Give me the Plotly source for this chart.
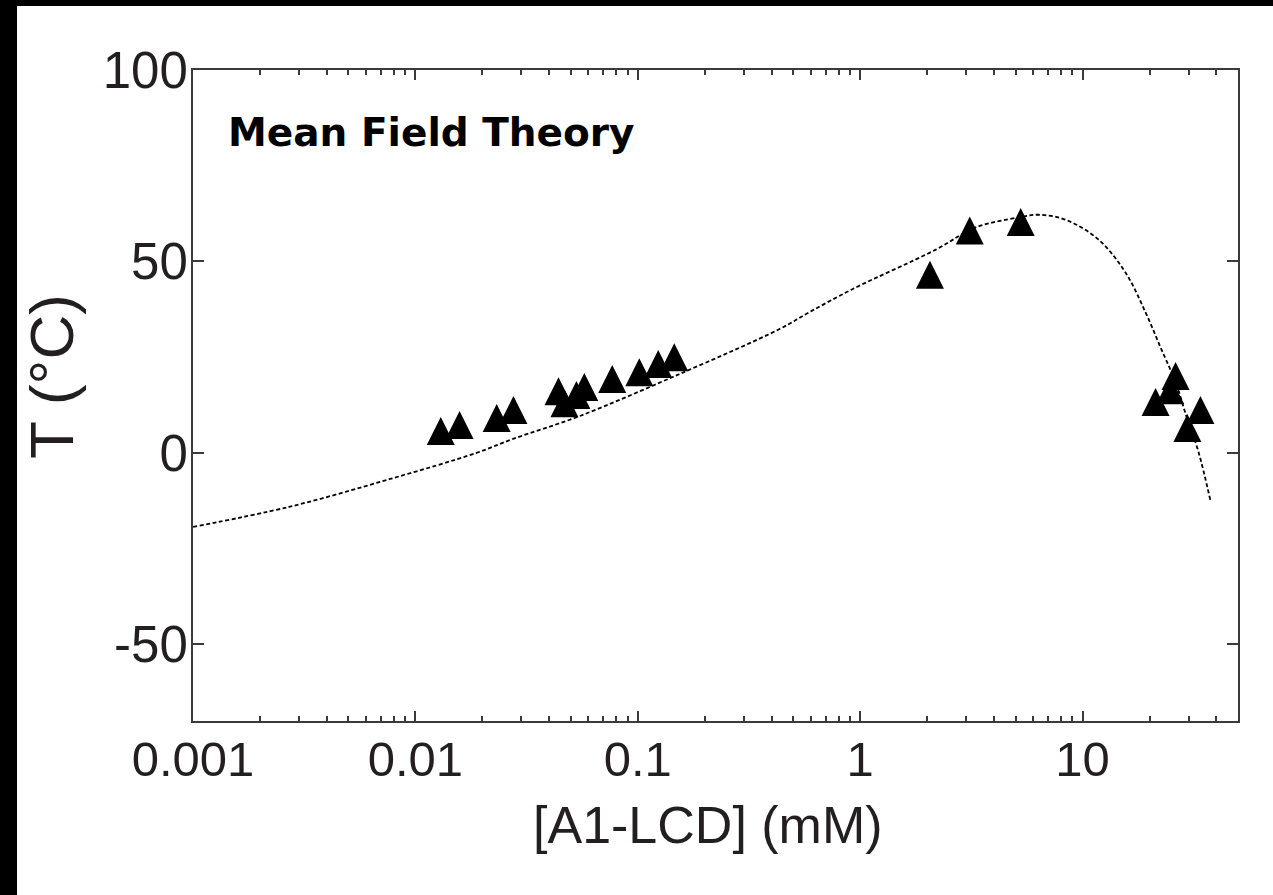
import plotly.graph_objects as go

# Experimental points (A1-LCD concentration in mM, temperature in C)
conc_mM = [0.0130, 0.0158, 0.0232, 0.0276, 0.0440, 0.0468, 0.0530, 0.0575, 0.0768,
           0.1016, 0.1236, 0.1459, 2.06, 3.11, 5.27, 21.3, 24.8, 26.2, 29.6, 33.9]
temp_C = [5.7, 7.3, 9.1, 11.2, 16.1, 13.0, 15.1, 17.2, 19.3,
          21.1, 23.2, 25.0, 46.5, 58.1, 60.3, 13.3, 16.4, 20.1, 6.5, 11.2]

# Mean field theory binodal
mft_x = [0.001, 0.0027, 0.0077, 0.0188, 0.0273, 0.0546, 0.154, 0.432, 0.589, 0.918,
         2.19, 3.31, 5.16, 6.35, 8.39, 11.8, 15.6, 19.2, 22.6, 26.2, 29.3, 33.2, 37.6]
mft_y = [-19.3, -14.1, -6.8, 0.0, 3.6, 9.6, 20.6, 32.3, 36.7, 42.7,
         53.1, 58.9, 61.5, 62.2, 60.9, 55.7, 47.1, 36.7, 27.1, 18.5, 9.6, 0.3, -12.5]

x_tickvals = [0.001, 0.01, 0.1, 1, 10]
x_ticktext = ["0.001", "0.01", "0.1", "1", "10"]
x_minor = [m * d for d in [0.001, 0.01, 0.1, 1, 10] for m in range(2, 10)]
y_tickvals = [-50, 0, 50, 100]
y_ticktext = ["-50", "0", "50", "100"]

W, H = 1273, 895
L, R, T, B = 193, 35, 70, 174
pw, ph = W - L - R, H - T - B

def px_x(p):
    return (p - L) / pw

def px_y(p):
    return (H - B - p) / ph

fig = go.Figure()

fig.add_hline(y=0, line=dict(color="#8a8a8a", width=1, dash="3px,2px"), layer="below")

fig.add_trace(go.Scatter(
    x=mft_x, y=mft_y, mode="lines",
    line=dict(color="black", width=1.8, dash="4px,2.5px", shape="spline", smoothing=1),
    showlegend=False, hoverinfo="skip"))

S = 28
fig.add_trace(go.Scatter(
    x=conc_mM, y=temp_C, mode="markers",
    marker=dict(symbol="arrow-down", size=S, angle=180, standoff=S / 2,
                color="black", line=dict(width=0)),
    showlegend=False))

xtickfont = dict(family="Liberation Sans, Arial, Helvetica, sans-serif", size=49, color="#231f20")
ytickfont = dict(family="Liberation Sans, Arial, Helvetica, sans-serif", size=51, color="#231f20")
axcol = "#3a3a3a"

fig.update_xaxes(
    type="log", range=[-3, 1.699], tickvals=x_tickvals, ticktext=x_ticktext,
    ticks="inside", ticklen=10, tickwidth=2, tickcolor=axcol,
    minor=dict(tickvals=x_minor, ticks="inside", ticklen=5, tickwidth=1.5, tickcolor=axcol, showgrid=False),
    showline=True, linecolor=axcol, linewidth=2, mirror="ticks",
    showgrid=False, zeroline=False, tickfont=xtickfont, ticklabelstandoff=-6,
)
fig.update_yaxes(
    range=[-70, 100], tickvals=y_tickvals, ticktext=y_ticktext,
    ticks="inside", ticklen=11, tickwidth=2, tickcolor=axcol,
    showline=True, linecolor=axcol, linewidth=2, mirror="ticks",
    showgrid=False, zeroline=False, tickfont=ytickfont, ticklabelstandoff=-7,
)

# axis titles
fig.add_annotation(text="[A1-LCD] (mM)", xref="paper", yref="paper",
                   x=px_x(708), y=px_y(825), xanchor="center", yanchor="middle",
                   showarrow=False,
                   font=dict(family="Liberation Sans, Arial, sans-serif", size=52, color="#231f20"))
fig.add_annotation(text="T (°C)", xref="paper", yref="paper", textangle=-90,
                   x=px_x(51), y=px_y(377), xanchor="center", yanchor="middle",
                   showarrow=False,
                   font=dict(family="Liberation Sans, Arial, sans-serif", size=62, color="#231f20"))

# black border strips (top and left of the picture)
fig.add_shape(type="rect", xref="paper", yref="paper",
              x0=px_x(17), x1=1.2, y0=-0.5, y1=px_y(6),
              fillcolor="white", line=dict(width=0), layer="below")

fig.add_annotation(
    text="<b>Mean Field Theory</b>", xref="paper", yref="paper",
    x=px_x(226), y=px_y(132), xanchor="left", yanchor="middle",
    showarrow=False,
    font=dict(family="DejaVu Sans, sans-serif", size=39, color="black"))

fig.update_layout(
    width=W, height=H, margin=dict(l=L, r=R, t=T, b=B, pad=0),
    paper_bgcolor="black", plot_bgcolor="white",
)

fig.write_html("out.html", post_script="document.body.style.margin='0';",
               config={"displayModeBar": False})
